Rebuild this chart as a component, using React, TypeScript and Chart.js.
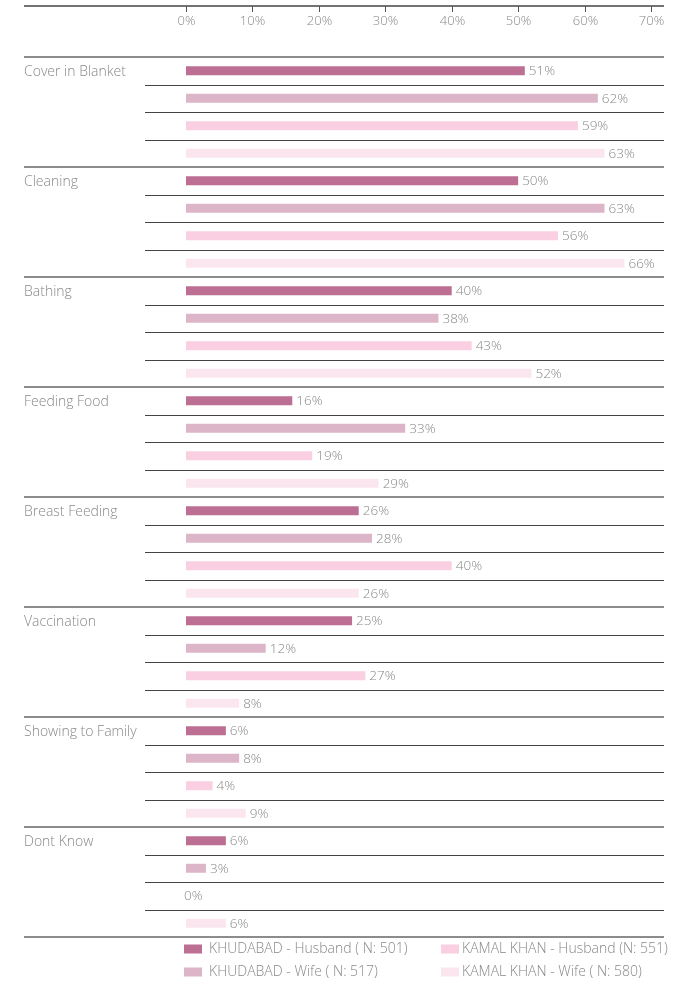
import React, { useEffect, useRef } from "react";
import { Chart, registerables } from "chart.js";

Chart.register(...registerables);

const categories = [
  "Cover in Blanket",
  "Cleaning",
  "Bathing",
  "Feeding Food",
  "Breast Feeding",
  "Vaccination",
  "Showing to Family",
  "Dont Know",
];
const khudabadHusband = [51, 50, 40, 16, 26, 25, 6, 6];
const khudabadWife = [62, 63, 38, 33, 28, 12, 8, 3];
const kamalKhanHusband = [59, 56, 43, 19, 40, 27, 4, 0];
const kamalKhanWife = [63, 66, 52, 29, 26, 8, 9, 6];
const seriesLabels = [
  "KHUDABAD - Husband ( N: 501)",
  "KHUDABAD - Wife ( N: 517)",
  "KAMAL KHAN - Husband (N: 551)",
  "KAMAL KHAN - Wife ( N: 580)",
];
const tickValues = [0, 10, 20, 30, 40, 50, 60, 70];

const colors = ["#bc6e93", "#ddb5c8", "#f9cfe1", "#fbe6ef"];
const FONT = "'Open Sans', sans-serif";
const TEXT = "#888888";

const overlay = {
  id: "overlay",
  afterDatasetsDraw(chart: any) {
    const ctx = chart.ctx as CanvasRenderingContext2D;
    const area = chart.chartArea;
    const xs = chart.scales.x;
    const n = categories.length;
    const h = (area.bottom - area.top) / n;
    const lineL = 24;
    const lineR = 664;
    const rowL = 145;
    ctx.save();

    // top axis line
    ctx.strokeStyle = "#444";
    ctx.lineWidth = 1.5;
    ctx.beginPath();
    ctx.moveTo(lineL, 6);
    ctx.lineTo(lineR, 6);
    ctx.stroke();

    // ticks and labels
    ctx.font = `300 13px ${FONT}`;
    ctx.fillStyle = TEXT;
    ctx.textAlign = "center";
    ctx.textBaseline = "middle";
    ctx.strokeStyle = "#555";
    ctx.lineWidth = 1;
    tickValues.forEach((v) => {
      const x = Math.round(xs.getPixelForValue(v)) + 0.5;
      ctx.beginPath();
      ctx.moveTo(x, 6);
      ctx.lineTo(x, 12);
      ctx.stroke();
      ctx.fillText(v + "%", x, 21);
    });

    // row lines
    ctx.strokeStyle = "#444";
    ctx.lineWidth = 1.2;
    for (let i = 0; i < n; i++) {
      for (let k = 1; k < 4; k++) {
        const y = Math.round(area.top + i * h + (k * h) / 4) + 0.5;
        ctx.beginPath();
        ctx.moveTo(rowL, y);
        ctx.lineTo(lineR, y);
        ctx.stroke();
      }
    }
    // group lines
    ctx.strokeStyle = "#666";
    ctx.lineWidth = 1.6;
    for (let i = 0; i <= n; i++) {
      const y = Math.round(area.top + i * h);
      ctx.beginPath();
      ctx.moveTo(lineL, y);
      ctx.lineTo(lineR, y);
      ctx.stroke();
    }

    // category labels
    ctx.font = `300 14px ${FONT}`;
    ctx.fillStyle = TEXT;
    ctx.textAlign = "left";
    ctx.textBaseline = "middle";
    categories.forEach((c, i) => {
      ctx.fillText(c, lineL, area.top + i * h + h / 8 + 1.5);
    });

    // value labels
    ctx.font = `300 13.5px ${FONT}`;
    chart.data.datasets.forEach((ds: any, di: number) => {
      const meta = chart.getDatasetMeta(di);
      meta.data.forEach((bar: any, j: number) => {
        const v = ds.data[j];
        const x = v === 0 ? bar.x - 2 : bar.x + 4;
        ctx.fillText(v + "%", x, bar.y + 0.5);
      });
    });

    // legend
    ctx.font = `300 14px ${FONT}`;
    const legendPos = [
      { x: 184, y: 949 },
      { x: 184, y: 972 },
      { x: 441, y: 949 },
      { x: 441, y: 972 },
    ];
    chart.data.datasets.forEach((ds: any, di: number) => {
      const p = legendPos[di];
      ctx.fillStyle = ds.backgroundColor;
      ctx.fillRect(p.x, p.y - 4.5, 18, 9);
      ctx.fillStyle = TEXT;
      ctx.fillText(ds.label, p.x + (di < 2 ? 25 : 21), p.y + 0.5);
    });

    ctx.restore();
  },
};

export default function App() {
  const ref = useRef<HTMLCanvasElement>(null);
  useEffect(() => {
    if (!ref.current) return;
    const seriesData = [khudabadHusband, khudabadWife, kamalKhanHusband, kamalKhanWife];
    const chart = new Chart(ref.current, {
      type: "bar",
      data: {
        labels: categories,
        datasets: seriesData.map((d, i) => ({
          label: seriesLabels[i],
          data: d,
          backgroundColor: colors[i],
          categoryPercentage: 1,
          barPercentage: 9 / 27.5,
        })),
      },
      options: {
        indexAxis: "y",
        animation: false,
        responsive: false,
        events: [],
        layout: { padding: { left: 186, right: 40, top: 57, bottom: 46 } },
        plugins: { legend: { display: false }, tooltip: { enabled: false } },
        scales: {
          x: { display: false, min: 0, max: 70 },
          y: { display: false },
        },
      },
      plugins: [overlay],
    });
    return () => chart.destroy();
  }, []);
  return (
    <div style={{ position: "absolute", left: 0, top: 0, width: 691, height: 983, background: "#fff" }}>
      <canvas ref={ref} width={691} height={983} style={{ width: 691, height: 983, display: "block" }} />
    </div>
  );
}
